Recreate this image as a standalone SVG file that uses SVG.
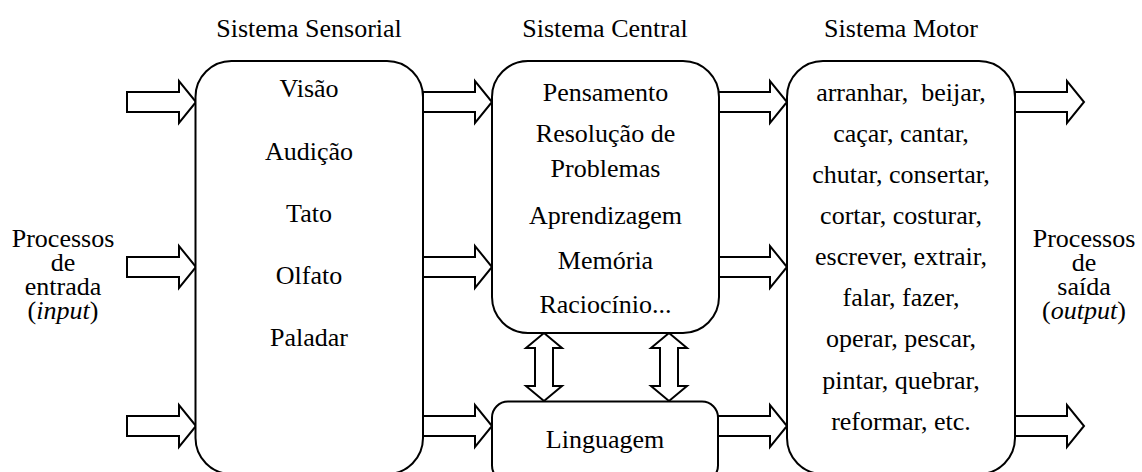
<svg xmlns="http://www.w3.org/2000/svg" xmlns:xlink="http://www.w3.org/1999/xlink" width="1142" height="472" viewBox="0 0 1142 472">
  <style>
    .box { fill: #ffffff; stroke: #000000; stroke-width: 2; }
    .arrow { fill: #ffffff; stroke: #000000; stroke-width: 2; stroke-linejoin: miter; }
    text { font-family: "Liberation Serif", "Times New Roman", serif; font-size: 26px; fill: #000000; text-anchor: middle; }
    .list { white-space: pre; }
  </style>
  <defs>
    <!-- block arrow pointing right, origin at tail centre -->
    <path id="blockArrow" class="arrow" d="M0,-10 H52 V-21 L69,0 L52,21 V10 H0 Z"/>
    <!-- two-headed vertical block arrow, origin at top tip -->
    <path id="dualArrow" class="arrow" d="M0,0 L18,15 H9 V53 H18 L0,68 L-18,53 H-9 V15 H-18 Z"/>
  </defs>

  <!-- titles -->
  <text x="309" y="37">Sistema Sensorial</text>
  <text x="605" y="37">Sistema Central</text>
  <text x="901" y="37">Sistema Motor</text>

  <!-- input / output labels -->
  <g id="input-label">
    <text x="63" y="247">Processos</text>
    <text x="63" y="271">de</text>
    <text x="63" y="295">entrada</text>
    <text x="63" y="319">(<tspan font-style="italic">input</tspan>)</text>
  </g>
  <g id="output-label">
    <text x="1084" y="247">Processos</text>
    <text x="1084" y="271">de</text>
    <text x="1084" y="295">saída</text>
    <text x="1084" y="319">(<tspan font-style="italic">output</tspan>)</text>
  </g>

  <!-- connectors -->
  <g id="connectors">
    <use xlink:href="#blockArrow" transform="translate(127,102)"/>
    <use xlink:href="#blockArrow" transform="translate(127,267)"/>
    <use xlink:href="#blockArrow" transform="translate(127,426)"/>

    <use xlink:href="#blockArrow" transform="translate(423,102)"/>
    <use xlink:href="#blockArrow" transform="translate(423,267)"/>
    <use xlink:href="#blockArrow" transform="translate(423,426)"/>

    <use xlink:href="#blockArrow" transform="translate(718,102)"/>
    <use xlink:href="#blockArrow" transform="translate(718,267)"/>
    <use xlink:href="#blockArrow" transform="translate(718,426)"/>

    <use xlink:href="#blockArrow" transform="translate(1015,102)"/>
    <use xlink:href="#blockArrow" transform="translate(1015,426)"/>

    <use xlink:href="#dualArrow" transform="translate(544,333)"/>
    <use xlink:href="#dualArrow" transform="translate(669,333)"/>
  </g>

  <!-- sensory system -->
  <g id="sensorial">
    <rect class="box" x="195.5" y="61" width="227.5" height="413" rx="36" ry="36"/>
    <text x="309" y="97">Visão</text>
    <text x="309" y="160">Audição</text>
    <text x="309" y="222">Tato</text>
    <text x="309" y="284">Olfato</text>
    <text x="309" y="346">Paladar</text>
  </g>

  <!-- central system -->
  <g id="central">
    <rect class="box" x="492" y="61" width="227" height="272" rx="36" ry="36"/>
    <text x="605.5" y="101">Pensamento</text>
    <text x="605.5" y="142">Resolução de</text>
    <text x="605.5" y="177">Problemas</text>
    <text x="605.5" y="224">Aprendizagem</text>
    <text x="605.5" y="269">Memória</text>
    <text x="605.5" y="313">Raciocínio...</text>
  </g>

  <!-- language -->
  <g id="linguagem">
    <rect class="box" x="492" y="401.5" width="226" height="80" rx="16" ry="16"/>
    <text x="605" y="448">Linguagem</text>
  </g>

  <!-- motor system -->
  <g id="motor">
    <rect class="box" x="787" y="61" width="228" height="413" rx="36" ry="36"/>
    <text class="list" x="901" y="101">arranhar,  beijar,</text>
    <text class="list" x="901" y="142">caçar, cantar,</text>
    <text class="list" x="901" y="183">chutar, consertar,</text>
    <text class="list" x="901" y="224">cortar, costurar,</text>
    <text class="list" x="901" y="265">escrever, extrair,</text>
    <text class="list" x="901" y="306">falar, fazer,</text>
    <text class="list" x="901" y="347">operar, pescar,</text>
    <text class="list" x="901" y="389">pintar, quebrar,</text>
    <text class="list" x="901" y="430">reformar, etc.</text>
  </g>
</svg>
